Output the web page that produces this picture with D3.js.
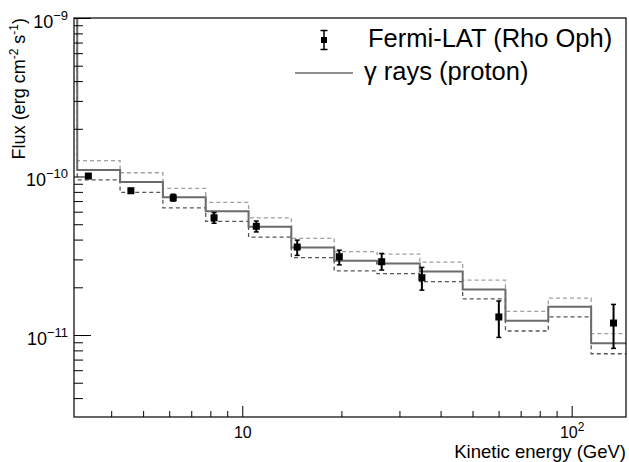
<!DOCTYPE html>
<html>
<head>
<meta charset="utf-8">
<script src="https://cdn.jsdelivr.net/npm/d3@7"></script>
<style>
  html, body { margin: 0; padding: 0; background: #fff; }
  svg { display: block; font-family: "Liberation Sans", Arial, Helvetica, sans-serif; }
</style>
</head>
<body>
<svg id="chart" width="629" height="462"></svg>
<script>
// ---- data ----
const binEdges = [3.155, 4.256, 5.741, 7.745, 10.45, 14.09, 19.01, 25.64, 34.59, 46.67, 62.95, 84.92, 114.6, 154.5];
const modelFlux = [1.10e-10, 9.23e-11, 7.39e-11, 6.03e-11, 4.82e-11, 3.56e-11, 2.94e-11, 2.83e-11, 2.52e-11, 1.94e-11, 1.23e-11, 1.51e-11, 8.87e-12];
const modelHigh = [1.26e-10, 1.056e-10, 8.41e-11, 6.87e-11, 5.49e-11, 4.07e-11, 3.36e-11, 3.24e-11, 2.88e-11, 2.22e-11, 1.41e-11, 1.71e-11, 1.02e-11];
const modelLow  = [9.51e-11, 7.94e-11, 6.35e-11, 5.21e-11, 4.15e-11, 3.08e-11, 2.54e-11, 2.44e-11, 2.17e-11, 1.69e-11, 1.06e-11, 1.30e-11, 7.62e-12];

const fermiEnergy = [3.41, 4.59, 6.17, 8.21, 11.03, 14.68, 19.70, 26.5, 35.1, 60.1, 134];
const fermiFlux   = [1.007e-10, 8.13e-11, 7.34e-11, 5.49e-11, 4.85e-11, 3.59e-11, 3.12e-11, 2.90e-11, 2.30e-11, 1.30e-11, 1.19e-11];
const fermiHigh   = [1.04e-10, 8.40e-11, 7.73e-11, 5.92e-11, 5.24e-11, 3.97e-11, 3.43e-11, 3.27e-11, 2.67e-11, 1.64e-11, 1.56e-11];
const fermiLow    = [0.975e-10, 7.87e-11, 7.00e-11, 5.07e-11, 4.47e-11, 3.18e-11, 2.77e-11, 2.57e-11, 1.92e-11, 9.66e-12, 8.24e-12];

const xMajorTicks = [10, 100];
const xMajorLabels = [["10", ""], ["10", "2"]];
const xMinorTicks = [4, 5, 6, 7, 8, 9, 20, 30, 40, 50, 60, 70, 80, 90];
const yMajorTicks = [1e-9, 1e-10, 1e-11];
const yMajorLabels = [["10", "\u22129"], ["10", "\u221210"], ["10", "\u221211"]];
const yMinorTicks = [9e-10, 8e-10, 7e-10, 6e-10, 5e-10, 4e-10, 3e-10, 2e-10,
                     9e-11, 8e-11, 7e-11, 6e-11, 5e-11, 4e-11, 3e-11, 2e-11,
                     9e-12, 8e-12, 7e-12, 6e-12, 5e-12, 4e-12];

const legendLabels = ["Fermi-LAT (Rho Oph)", "\u03b3 rays (proton)"];
const xTitle = "Kinetic energy (GeV)";

// ---- layout ----
const L = 74, R = 626, T = 18, B = 417;
const svg = d3.select("#chart");
const x = d3.scaleLog().domain([3.084, 146.2]).range([L, R]);
const y = d3.scaleLog().domain([3.04e-12, 1e-9]).range([B, T]);

svg.append("defs").append("clipPath").attr("id", "frameclip")
  .append("rect").attr("x", L).attr("y", T).attr("width", R - L).attr("height", B - T);

const plot = svg.append("g").attr("clip-path", "url(#frameclip)");

function histPoints(vals) {
  const pts = [[binEdges[0], y.domain()[1] * 3]];
  vals.forEach((v, i) => { pts.push([binEdges[i], v]); pts.push([binEdges[i + 1], v]); });
  return pts;
}
const line = d3.line().x(d => x(d[0])).y(d => y(d[1]));

plot.append("path").attr("d", line(histPoints(modelHigh)))
  .attr("fill", "none").attr("stroke", "#a0a0a0").attr("stroke-width", 1.3).attr("stroke-dasharray", "4,3");
plot.append("path").attr("d", line(histPoints(modelLow)))
  .attr("fill", "none").attr("stroke", "#555").attr("stroke-width", 1.3).attr("stroke-dasharray", "4,3");
plot.append("path").attr("d", line(histPoints(modelFlux)))
  .attr("fill", "none").attr("stroke", "#6b6b6b").attr("stroke-width", 2);

// data points
const pts = plot.append("g");
fermiEnergy.forEach((e, i) => {
  const cx = x(e);
  pts.append("line").attr("x1", cx).attr("x2", cx).attr("y1", y(fermiHigh[i])).attr("y2", y(fermiLow[i]))
    .attr("stroke", "#000").attr("stroke-width", 2);
  [fermiHigh[i], fermiLow[i]].forEach(v => {
    pts.append("line").attr("x1", cx - 2.5).attr("x2", cx + 2.5).attr("y1", y(v)).attr("y2", y(v))
      .attr("stroke", "#000").attr("stroke-width", 1.5);
  });
  pts.append("rect").attr("x", cx - 3.5).attr("y", y(fermiFlux[i]) - 3.5).attr("width", 7).attr("height", 7).attr("fill", "#000");
});

// ---- axes ----
function addSup(sel, labels, supSize, supDy) {
  sel.each(function(d, i) {
    const t = d3.select(this);
    t.text(null);
    t.append("tspan").text(labels[i][0]);
    if (labels[i][1]) t.append("tspan").attr("font-size", supSize).attr("dy", supDy).text(labels[i][1]);
  });
}

const xMajor = svg.append("g").attr("transform", `translate(0,${B})`)
  .call(d3.axisBottom(x).tickValues(xMajorTicks).tickSize(-11).tickFormat(() => ""));
const xMinor = svg.append("g").attr("transform", `translate(0,${B})`)
  .call(d3.axisBottom(x).tickValues(xMinorTicks).tickSize(-6).tickFormat(() => ""));
[xMajor, xMinor].forEach(g => { g.select(".domain").remove(); g.selectAll("line").attr("stroke", "#000"); });
xMajor.selectAll("text").attr("y", 20.5).attr("dy", 0).attr("font-size", "16px").attr("fill", "#000")
  .attr("font-family", "Liberation Sans, Arial, sans-serif");
addSup(xMajor.selectAll("text"), xMajorLabels, "12px", -7);

const yMajor = svg.append("g").attr("transform", `translate(${L},0)`)
  .call(d3.axisLeft(y).tickValues(yMajorTicks).tickSize(-17).tickFormat(() => ""));
const yMinor = svg.append("g").attr("transform", `translate(${L},0)`)
  .call(d3.axisLeft(y).tickValues(yMinorTicks).tickSize(-9).tickFormat(() => ""));
[yMajor, yMinor].forEach(g => { g.select(".domain").remove(); g.selectAll("line").attr("stroke", "#000"); });
yMajor.selectAll("text").attr("x", -6).attr("dy", 9).attr("font-size", "18px").attr("fill", "#000")
  .attr("text-anchor", "end").attr("font-family", "Liberation Sans, Arial, sans-serif");
addSup(yMajor.selectAll("text"), yMajorLabels, "13px", -8);

// frame
svg.append("rect").attr("x", L).attr("y", T).attr("width", R - L).attr("height", B - T)
  .attr("fill", "none").attr("stroke", "#000").attr("stroke-width", 1.2);

// axis titles
svg.append("text").attr("x", R).attr("y", 458).attr("text-anchor", "end")
  .attr("font-size", "18.5px").text(xTitle);

const yt = svg.append("text").attr("transform", `translate(25,${T}) rotate(-90)`)
  .attr("text-anchor", "end").attr("font-size", "18px");
yt.append("tspan").text("Flux (erg cm");
yt.append("tspan").attr("font-size", "12px").attr("dy", -7).text("-2");
yt.append("tspan").attr("dy", 7).text(" s");
yt.append("tspan").attr("font-size", "12px").attr("dy", -7).text("-1");
yt.append("tspan").attr("dy", 7).text(")");

// ---- legend ----
const lg = svg.append("g");
const lx = 324, ly1 = 40;
lg.append("line").attr("x1", lx).attr("x2", lx).attr("y1", ly1 - 9.5).attr("y2", ly1 + 9.5).attr("stroke", "#000").attr("stroke-width", 1.5);
[ly1 - 9.5, ly1 + 9.5].forEach(v => lg.append("line").attr("x1", lx - 3.5).attr("x2", lx + 3.5).attr("y1", v).attr("y2", v).attr("stroke", "#000").attr("stroke-width", 1.5));
lg.append("rect").attr("x", lx - 3).attr("y", ly1 - 3).attr("width", 6).attr("height", 6).attr("fill", "#000");
lg.append("text").attr("x", 368).attr("y", 47).attr("font-size", "25.5px").text(legendLabels[0]);
lg.append("line").attr("x1", 295).attr("x2", 353).attr("y1", 73).attr("y2", 73).attr("stroke", "#6b6b6b").attr("stroke-width", 1.5);
lg.append("text").attr("x", 364).attr("y", 80).attr("font-size", "25.5px").text(legendLabels[1]);
</script>
</body>
</html>
